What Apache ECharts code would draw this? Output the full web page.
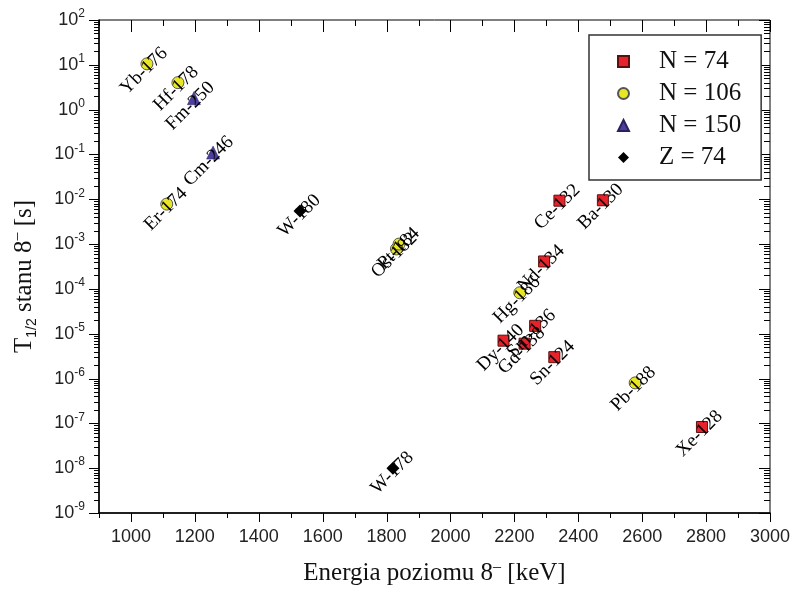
<!DOCTYPE html>
<html><head><meta charset="utf-8">
<script src="https://cdn.jsdelivr.net/npm/echarts@6/dist/echarts.min.js"></script>
<style>html,body{margin:0;padding:0;background:#fff}#c{width:794px;height:593px}</style>
</head><body><div id="c"></div>
<script>
// N = 74 (red squares)
const n74Names = ['Sn-124','Xe-128','Ba-130','Ce-132','Nd-134','Sm-136','Gd-138','Dy-140'];
const n74Energy = [2325, 2787, 2477, 2341, 2293, 2265, 2232, 2166];
const n74HalfLife = [3.0e-6, 8.3e-8, 9.5e-3, 9.3e-3, 4.1e-4, 1.5e-5, 6.0e-6, 7.0e-6];
// N = 106 (yellow circles)
const n106Names = ['Er-174','Yb-176','Hf-178','Os-182','Pt-184','Hg-186','Pb-188'];
const n106Energy = [1112, 1050, 1147, 1831, 1839, 2217, 2578];
const n106HalfLife = [7.8e-3, 10.5, 4.0, 7.8e-4, 1.0e-3, 8.2e-5, 8.0e-7];
// N = 150 (triangles)
const n150Names = ['Cm-246','Fm-250'];
const n150Energy = [1257, 1197];
const n150HalfLife = [0.11, 1.8];
// Z = 74 (diamonds)
const z74Names = ['W-178','W-180'];
const z74Energy = [1820, 1529];
const z74HalfLife = [1.0e-8, 5.5e-3];

const legendNames = ['N = 74','N = 106','N = 150','Z = 74'];
// ticks
const xTickValues = [900,1000,1100,1200,1300,1400,1500,1600,1700,1800,1900,2000,2100,2200,2300,2400,2500,2600,2700,2800,2900,3000];
const xLabelStep = 200;
const yDecades = [-9,-8,-7,-6,-5,-4,-3,-2,-1,0,1,2];
const yMinorMultipliers = [2,3,4,5,6,7,8,9];

const X_MIN = 900, X_MAX = 3000, Y_MIN = 1e-9, Y_MAX = 1e2;

const tickData = [];
xTickValues.forEach(v => tickData.push([v, 1, v % xLabelStep === 0 ? 0 : 1]));
yDecades.forEach(e => {
  tickData.push([1000, Math.pow(10, e), 2]);
  if (e < 2) yMinorMultipliers.forEach(m => tickData.push([1000, m * Math.pow(10, e), 3]));
});

const serifFont = 'Liberation Serif';
const sansFont = 'Liberation Sans';

function mk(names, xs, ys) {
  return names.map((n, i) => ({ name: n, value: [xs[i], ys[i]] }));
}
const labelCfg = {
  show: true, formatter: '{b}', position: 'inside', align: 'right', verticalAlign: 'middle',
  rotate: 45, offset: [22, 3], fontFamily: serifFont, fontSize: 19, color: '#000'
};

const chart = echarts.init(document.getElementById('c'), null, { renderer: 'canvas' });
chart.setOption({
  backgroundColor: '#fff',
  animation: false,
  grid: { left: 99, right: 24, top: 20, bottom: 80, show: true, borderColor: '#000', borderWidth: 1, outerBoundsMode: 'none', containLabel: false },
  legend: {
    data: legendNames, orient: 'vertical', left: 589, top: 35,
    padding: [14, 20, 10, 28], itemGap: 7, itemWidth: 11, itemHeight: 11,
    borderColor: '#333', borderWidth: 1.5, backgroundColor: '#fff',
    textStyle: { fontFamily: serifFont, fontSize: 25, color: '#111', padding: [0, 0, 0, 25] }
  },
  xAxis: {
    type: 'value', min: X_MIN, max: X_MAX, interval: 100,
    axisLine: { show: true, lineStyle: { color: '#000', width: 1.5 } },
    axisTick: { show: false }, splitLine: { show: false },
    axisLabel: {
      margin: 15, fontFamily: sansFont, fontSize: 18, color: '#222',
      formatter: v => (v % xLabelStep === 0 ? String(v) : '')
    },
    name: '{t|Energia poziomu 8}{sup|–}{t| [keV]}', nameLocation: 'middle', nameGap: 46,
    nameTextStyle: {
      rich: {
        t: { fontFamily: serifFont, fontSize: 25, color: '#111', lineHeight: 28 },
        sup: { fontFamily: serifFont, fontSize: 16, color: '#111', lineHeight: 16, verticalAlign: 'top' }
      }
    }
  },
  yAxis: {
    type: 'log', logBase: 10, min: Y_MIN, max: Y_MAX, interval: 1, splitNumber: 11,
    axisLine: { show: true, lineStyle: { color: '#000', width: 1.5 } },
    axisTick: { show: false }, splitLine: { show: false }, minorTick: { show: false },
    axisLabel: {
      margin: 14, color: '#222',
      formatter: v => '{b|10}{s|' + Math.round(Math.log10(v)) + '}',
      rich: {
        b: { fontFamily: sansFont, fontSize: 18, color: '#222', lineHeight: 24 },
        s: { fontFamily: sansFont, fontSize: 12, color: '#222', lineHeight: 12, verticalAlign: 'top' }
      }
    },
    name: '{t|T}{sub|1/2}{t| stanu 8}{sup|–}{t| [s]}', nameLocation: 'middle', nameGap: 60,
    nameTextStyle: {
      padding: [0, 20, 0, 0],
      rich: {
        t: { fontFamily: serifFont, fontSize: 25, color: '#111', lineHeight: 30 },
        sub: { fontFamily: sansFont, fontSize: 14, color: '#111', lineHeight: 14, verticalAlign: 'bottom' },
        sup: { fontFamily: serifFont, fontSize: 16, color: '#111', lineHeight: 16, verticalAlign: 'top' }
      }
    }
  },
  series: [
    {
      name: 'ticks', type: 'custom', silent: true, z: 1, clip: false,
      data: tickData, encode: { x: 0, y: 1 },
      renderItem: function (params, api) {
        const cs = params.coordSys;
        const kind = api.value(2);
        const st = { stroke: '#000', lineWidth: 1 };
        const ch = [];
        if (kind === 0 || kind === 1) {
          const px = Math.round(api.coord([api.value(0), 1])[0]) + 0.5;
          const major = kind === 0;
          const bot = cs.y + cs.height, top = cs.y;
          ch.push({ type: 'line', shape: { x1: px, y1: bot, x2: px, y2: bot + (major ? 9 : 5) }, style: st });
          ch.push({ type: 'line', shape: { x1: px, y1: top, x2: px, y2: top + (major ? 12 : 6) }, style: st });
        } else {
          const py = Math.round(api.coord([1000, api.value(1)])[1]) + 0.5;
          const major = kind === 2;
          const l = cs.x, r = cs.x + cs.width;
          ch.push({ type: 'line', shape: { x1: l - (major ? 10 : 5), y1: py, x2: l, y2: py }, style: st });
          ch.push({ type: 'line', shape: { x1: r - (major ? 11 : 6), y1: py, x2: r, y2: py }, style: st });
        }
        return { type: 'group', children: ch };
      }
    },
    {
      name: 'N = 74', type: 'scatter', symbol: 'rect', symbolSize: 11, z: 5,
      itemStyle: { color: '#e8222a', borderColor: '#5a1010', borderWidth: 1, opacity: 1 },
      label: labelCfg, data: mk(n74Names, n74Energy, n74HalfLife)
    },
    {
      name: 'N = 106', type: 'scatter', symbol: 'circle', symbolSize: 12, z: 5,
      itemStyle: { color: '#e8e625', borderColor: '#555', borderWidth: 1, opacity: 1 },
      label: labelCfg, data: mk(n106Names, n106Energy, n106HalfLife)
    },
    {
      name: 'N = 150', type: 'scatter', symbol: 'triangle', symbolSize: 13, z: 5,
      itemStyle: { color: '#4b3f9e', borderColor: '#2a2060', borderWidth: 0.5, opacity: 1 },
      label: labelCfg, data: mk(n150Names, n150Energy, n150HalfLife)
    },
    {
      name: 'Z = 74', type: 'scatter', symbol: 'diamond', symbolSize: 13, z: 5,
      itemStyle: { color: '#000', opacity: 1 },
      label: labelCfg, data: mk(z74Names, z74Energy, z74HalfLife)
    }
  ]
});
</script>
</body></html>
